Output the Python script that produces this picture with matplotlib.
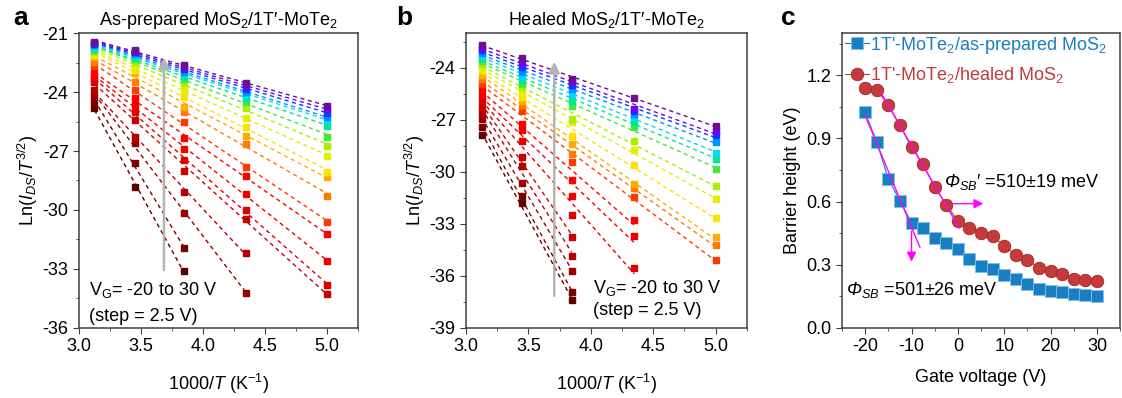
import numpy as np
import matplotlib
matplotlib.use('Agg')
import matplotlib.pyplot as plt
from matplotlib.ticker import MultipleLocator

plt.rcParams['font.family'] = ['Liberation Sans', 'DejaVu Sans']
plt.rcParams['mathtext.fontset'] = 'custom'
plt.rcParams['mathtext.rm'] = 'Liberation Sans'
plt.rcParams['mathtext.it'] = 'Liberation Sans:italic'
plt.rcParams['mathtext.bf'] = 'Liberation Sans:bold'
plt.rcParams['mathtext.sf'] = 'Liberation Sans:italic'  # used for the italic Phi
plt.rcParams['axes.unicode_minus'] = False

# 1000/T for T = 320, 290, 260, 230, 200 K
inv_T = np.array([1000/320, 1000/290, 1000/260, 1000/230, 1000/200])
vg = np.arange(-20, 30.1, 2.5)

# panel a: Ln(I/T^1.5), one row per gate voltage (VG=-20 first), nan = not measured
lnI_a = np.array([
    [-24.80, -28.81, -33.08, np.nan, np.nan],
    [-24.50, -27.62, -31.95, np.nan, np.nan],
    [-24.20, -26.61, -30.14, -34.20, np.nan],
    [-23.90, -26.27, -29.10, -32.17, np.nan],
    [-23.48, -25.42, -28.02, -30.44, -34.27],
    [-23.39, -25.00, -27.46, -30.00, -33.81],
    [-23.22, -24.66, -26.91, -29.20, -32.59],
    [-23.05, -24.32, -26.32, -28.27, -31.24],
    [-22.70, -23.90, -25.51, -27.80, -30.59],
    [-22.46, -23.47, -25.00, -26.64, -29.27],
    [-22.20, -23.05, -24.75, -26.24, -28.30],
    [-22.10, -22.88, -24.24, -25.76, -28.05],
    [-22.03, -22.63, -23.90, -25.34, -27.25],
    [-21.95, -22.46, -23.56, -24.83, -26.77],
    [-21.86, -22.30, -23.35, -24.49, -26.27],
    [-21.78, -22.20, -23.22, -24.30, -25.71],
    [-21.70, -22.12, -23.05, -24.15, -25.40],
    [-21.63, -22.05, -22.97, -24.00, -25.29],
    [-21.56, -21.98, -22.85, -23.85, -25.05],
    [-21.50, -21.92, -22.75, -23.70, -24.88],
    [-21.44, -21.86, -22.63, -23.56, -24.70],
])

# panel b
lnI_b = np.array([
    [-27.87, -31.80, -37.40, np.nan, np.nan],
    [-27.42, -31.40, -36.92, np.nan, np.nan],
    [-26.95, -30.64, -35.70, np.nan, np.nan],
    [-26.60, -29.64, -34.83, np.nan, np.nan],
    [-26.25, -29.15, -33.75, np.nan, np.nan],
    [-25.85, -28.23, -32.47, -35.56, np.nan],
    [-25.60, -27.61, -31.40, -33.71, np.nan],
    [-25.20, -27.27, -30.50, -32.75, np.nan],
    [-24.95, -26.52, -29.41, -31.46, -35.08],
    [-24.65, -26.17, -28.96, -30.94, -34.19],
    [-24.40, -25.90, -28.39, -30.70, -33.77],
    [-24.15, -25.69, -27.94, -29.58, -32.67],
    [-23.95, -25.45, -27.14, -28.77, -31.56],
    [-23.77, -25.11, -26.94, -28.25, -30.83],
    [-23.60, -24.92, -26.21, -27.42, -29.83],
    [-23.45, -24.70, -25.89, -27.10, -29.25],
    [-23.30, -24.50, -25.50, -26.83, -28.90],
    [-23.15, -24.25, -25.21, -26.65, -28.29],
    [-23.00, -23.96, -25.00, -26.50, -27.90],
    [-22.85, -23.70, -24.83, -26.37, -27.65],
    [-22.71, -23.44, -24.63, -25.73, -27.38],
])

# panel c: barrier height (eV)
phi_asprep = [1.023, 0.884, 0.707, 0.605, 0.500, 0.474, 0.428, 0.403, 0.374, 0.326, 0.296,
              0.280, 0.250, 0.232, 0.209, 0.187, 0.174, 0.171, 0.160, 0.156, 0.150]
phi_healed = [1.137, 1.130, 1.058, 0.963, 0.857, 0.777, 0.668, 0.586, 0.507, 0.474, 0.452,
              0.436, 0.389, 0.348, 0.321, 0.286, 0.269, 0.258, 0.234, 0.229, 0.223]

colors = ['#5e0000', '#7c0000', '#980000', '#b30000', '#cc0000', '#e00000', '#f20000',
          '#ff0000', '#ff3a00', '#ff7a00', '#ffac00', '#ffe000', '#e0f000', '#a8f000',
          '#40e840', '#00e890', '#00d8ff', '#0090ff', '#0040ff', '#7000ff', '#6a1090']

blue = '#1a7fc2'
red = '#c53a3a'
mag = '#ff00ff'
frame = '#404040'

fig = plt.figure(figsize=(11.22, 3.98), dpi=100)
ax_a = fig.add_axes([0.0704, 0.176, 0.2487, 0.741])
ax_b = fig.add_axes([0.4153, 0.176, 0.2504, 0.741])
ax_c = fig.add_axes([0.7504, 0.176, 0.2480, 0.741])


def style(ax):
    for s in ax.spines.values():
        s.set_color(frame)
        s.set_linewidth(1.1)
    ax.tick_params(which='both', direction='out', top=False, right=False,
                   labelsize=13, color=frame)
    ax.tick_params(which='major', length=4)
    ax.tick_params(which='minor', length=2.5)


def arrhenius(ax, data):
    for i in range(len(data)):
        ok = ~np.isnan(data[i])
        x = inv_T[ok]
        y = data[i][ok]
        p = np.polyfit(x, y, 1)
        xf = np.array([x.min(), x.max()])
        ax.plot(xf, np.polyval(p, xf), ls=(0, (3, 2.5)), lw=1, color=colors[i])
        ax.plot(x, y, 's', ms=4.5, color=colors[i], mec=colors[i])
    ax.set_xlim(3.0, 5.25)
    ax.xaxis.set_major_locator(MultipleLocator(0.5))
    ax.xaxis.set_minor_locator(MultipleLocator(0.25))
    ax.yaxis.set_major_locator(MultipleLocator(3))
    ax.yaxis.set_minor_locator(MultipleLocator(1.5))
    ax.set_xlabel('1000/$T$ (K$^{-1}$)', fontsize=13, labelpad=12)
    ax.set_ylabel('Ln($I_{DS}$/$T^{3/2}$)', fontsize=13, labelpad=2)
    style(ax)


# a
arrhenius(ax_a, lnI_a)
ax_a.set_ylim(-36, -21)
ax_a.annotate('', xy=(3.685, -22.25), xytext=(3.685, -33.05),
              arrowprops=dict(arrowstyle='-|>', color='#b4b4b4', lw=1.8,
                              mutation_scale=16, shrinkA=0, shrinkB=0))
ax_a.text(3.08, -34.05, 'V$_\\mathrm{G}$= -20 to 30 V', fontsize=13, va='center')
ax_a.text(3.08, -35.4, '(step = 2.5 V)', fontsize=13, va='center')
ax_a.set_title('As-prepared MoS$_2$/1T\u2032-MoTe$_2$', fontsize=13, pad=6)

# b
arrhenius(ax_b, lnI_b)
ax_b.set_ylim(-39, -22)
ax_b.annotate('', xy=(3.707, -23.65), xytext=(3.707, -37.15),
              arrowprops=dict(arrowstyle='-|>', color='#b4b4b4', lw=1.8,
                              mutation_scale=16, shrinkA=0, shrinkB=0))
ax_b.text(4.02, -36.7, 'V$_\\mathrm{G}$= -20 to 30 V', fontsize=13, va='center')
ax_b.text(4.02, -38.0, '(step = 2.5 V)', fontsize=13, va='center')
ax_b.set_title('Healed MoS$_2$/1T\u2032-MoTe$_2$', fontsize=13, pad=6)

# c
ax_c.plot(vg, phi_asprep, '-s', color=blue, lw=0.8, ms=8, mec='#7fc0ea', mew=0.6,
          label="1T'-MoTe$_2$/as-prepared MoS$_2$")
ax_c.plot(vg, phi_healed, '-o', color=red, lw=0.8, ms=9, mec='#a02828', mew=0.6,
          label="1T'-MoTe$_2$/healed MoS$_2$")

vg_arr = np.array(vg)
sel = (vg_arr >= -20) & (vg_arr <= -10)
p1 = np.polyfit(vg_arr[sel], np.array(phi_asprep)[sel], 1)
x1 = np.array([-20, -8.2])
ax_c.plot(x1, np.polyval(p1, x1), color=mag, lw=1)
sel = (vg_arr >= -15) & (vg_arr <= -2.5)
p2 = np.polyfit(vg_arr[sel], np.array(phi_healed)[sel], 1)
x2 = np.array([-16.5, 0.3])
ax_c.plot(x2, np.polyval(p2, x2), color=mag, lw=1)

ax_c.annotate('', xy=(-10, 0.315), xytext=(-10, 0.46),
              arrowprops=dict(arrowstyle='-|>', color=mag, lw=1, mutation_scale=14,
                              shrinkA=0, shrinkB=0))
ax_c.annotate('', xy=(5.5, 0.59), xytext=(-1.3, 0.59),
              arrowprops=dict(arrowstyle='-|>', color=mag, lw=1, mutation_scale=14,
                              shrinkA=0, shrinkB=0))
ax_c.text(-2.9, 0.695, "$\\mathsf{\\Phi}_{SB}$\u2032 =510$\\pm$19 meV", fontsize=13, va='center')
ax_c.text(-24.1, 0.18, "$\\mathsf{\\Phi}_{SB}$ =501$\\pm$26 meV", fontsize=13, va='center')

ax_c.set_xlim(-25, 35)
ax_c.set_ylim(0, 1.4)
ax_c.xaxis.set_major_locator(MultipleLocator(10))
ax_c.xaxis.set_minor_locator(MultipleLocator(5))
ax_c.yaxis.set_major_locator(MultipleLocator(0.3))
ax_c.yaxis.set_minor_locator(MultipleLocator(0.15))
ax_c.yaxis.set_major_formatter(plt.FormatStrFormatter('%.1f'))
ax_c.set_xlabel('Gate voltage (V)', fontsize=13, labelpad=10)
ax_c.set_ylabel('Barrier height (eV)', fontsize=13, labelpad=4)
style(ax_c)
leg = ax_c.legend(loc='upper left', bbox_to_anchor=(0.012, 0.995), frameon=False,
                  fontsize=13, handlelength=1.3, handletextpad=0.05, labelspacing=0.55,
                  borderpad=0, borderaxespad=0)
for t, c in zip(leg.get_texts(), [blue, red]):
    t.set_color(c)

fig.text(0.012, 0.955, 'a', fontsize=19, fontweight='bold', va='center')
fig.text(0.353, 0.955, 'b', fontsize=19, fontweight='bold', va='center')
fig.text(0.696, 0.955, 'c', fontsize=19, fontweight='bold', va='center')

fig.savefig('out.png', dpi=100)
